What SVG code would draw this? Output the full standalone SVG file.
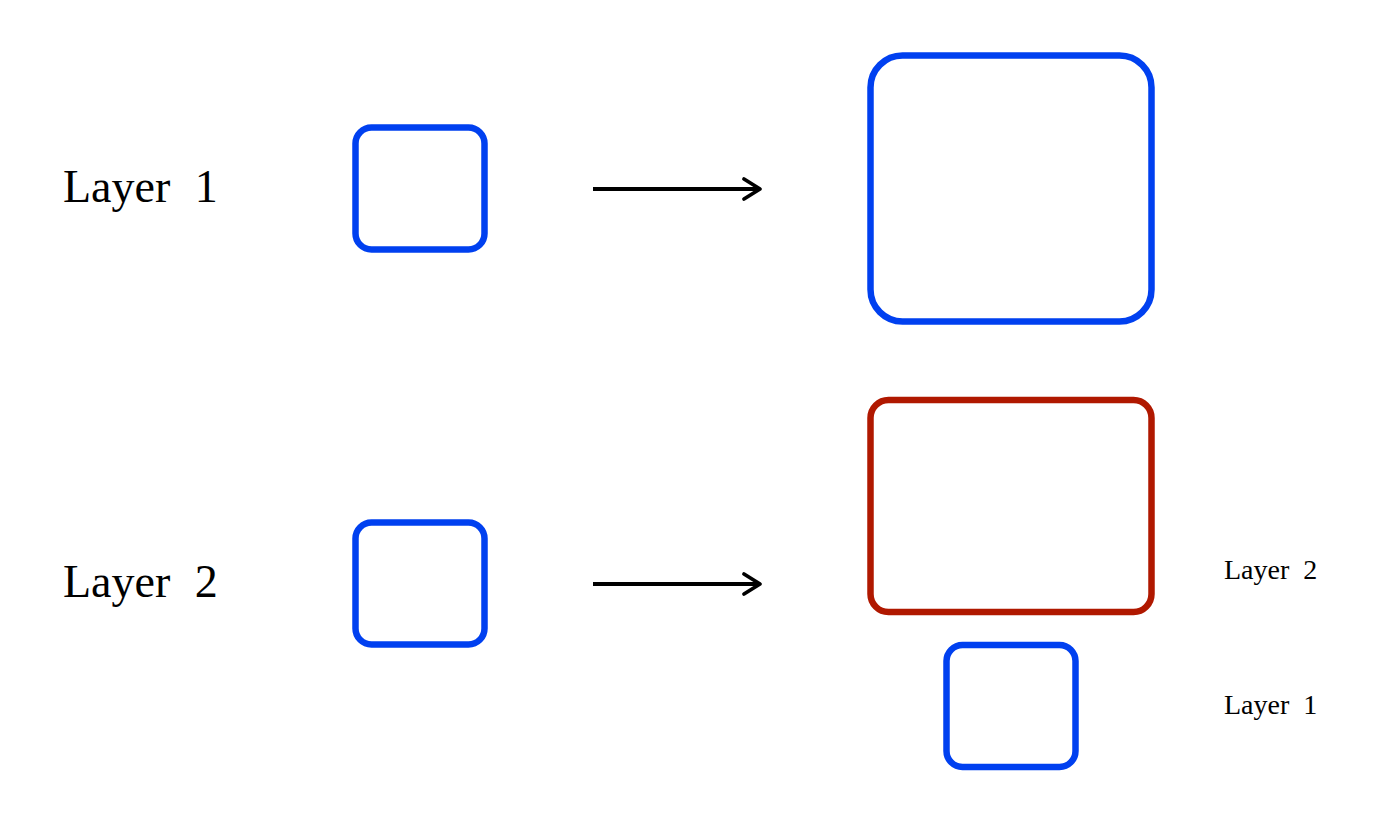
<svg xmlns="http://www.w3.org/2000/svg" width="1384" height="820" viewBox="0 0 1384 820">
<style>
.blue{fill:none;stroke:#0040f0;stroke-width:6.5}
.red{fill:none;stroke:#b01800;stroke-width:6.5}
.big{font-family:"Liberation Serif",serif;font-size:46px;word-spacing:13px;fill:#000}
.small{font-family:"Liberation Serif",serif;font-size:28px;word-spacing:7px;fill:#000}
.conn{stroke:#000;stroke-width:3.8;fill:none}
.head{stroke:#000;stroke-width:3.8;fill:none;stroke-linecap:round;stroke-linejoin:round}
</style>
<rect width="1384" height="820" fill="#fff"/>
<g id="label-layer1"><text class="big" x="63" y="202">Layer 1</text></g>
<g id="label-layer2"><text class="big" x="63" y="597">Layer 2</text></g>
<g id="box-l1-small"><rect class="blue" x="355.5" y="127.5" width="129" height="122" rx="16"/></g>
<g id="box-l2-small"><rect class="blue" x="355.5" y="522.5" width="129" height="122" rx="16"/></g>
<g id="box-l1-large"><rect class="blue" x="870.5" y="55.5" width="281" height="266" rx="32"/></g>
<g id="box-l2-red"><rect class="red" x="870.5" y="400" width="281" height="212" rx="18"/></g>
<g id="box-l1-bottom"><rect class="blue" x="946.5" y="645" width="129" height="122" rx="16"/></g>
<g id="legend-layer2"><text class="small" x="1224" y="579">Layer 2</text></g>
<g id="legend-layer1"><text class="small" x="1224" y="714">Layer 1</text></g>
<g id="connectors">
<line class="conn" x1="593" y1="189" x2="759" y2="189"/>
<polyline class="head" points="744,179 760,189 744,199"/>
<line class="conn" x1="593" y1="584" x2="759" y2="584"/>
<polyline class="head" points="744,574 760,584 744,594"/>
</g>
</svg>
